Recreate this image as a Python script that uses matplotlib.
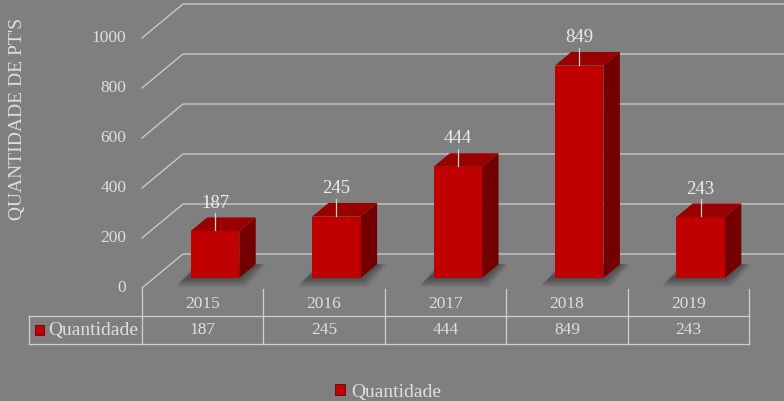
import matplotlib.pyplot as plt
from matplotlib.patches import Polygon, Rectangle

# Data
anos = ['2015', '2016', '2017', '2018', '2019']
quantidade = [187, 245, 444, 849, 243]
yticks = [0, 200, 400, 600, 800, 1000]
serie = 'Quantidade'
ytitulo = "QUANTIDADE DE PT'S"

BG = '#7f7f7f'
GRID = '#d0d0d0'
TXT = '#dedede'
FRONT = '#c00000'
TOP = '#990000'
SIDE = '#730000'

plt.rcParams['font.family'] = ['Liberation Serif', 'DejaVu Serif']

fig = plt.figure(figsize=(7.84, 4.01), dpi=100, facecolor=BG)
ax = fig.add_axes([142 / 784, (401 - 288) / 401, 607 / 784, 250 / 401])
ax.set_xlim(0, len(anos))
ax.set_ylim(0, 1000)
ax.axis('off')

# depth of the 3d box in data units
DX, DY = 0.338, 136


def pt(x, y, d):
    return (x + d * DX, y + d * DY)


# back wall gridlines
for v in yticks:
    ax.plot([0, DX, 5.35], [v, v + DY, v + DY], color=GRID, lw=0.9, clip_on=False)
    ax.text(-0.13, v, str(v), ha='right', va='center', color=TXT, fontsize=12.5)

fig.text(18 / 784, 1 - 119 / 401, ytitulo, rotation=90, ha='center', va='center',
         color=TXT, fontsize=14)

# bars
w = 0.4
d0, d1 = 0.3, 0.7
for i, v in enumerate(quantidade):
    xl = i + 0.5 - w / 2
    xr = i + 0.5 + w / 2
    # floor shadow
    for k in range(6):
        g = 0.012 * k
        shadow = [pt(xl - 0.06 - g, -6 - 6 * k, d0), pt(xr + g, -6 - 6 * k, d0),
                  pt(xr + 0.02 + g, 0, d1), pt(xl - 0.04 - g, 0, d1)]
        ax.add_patch(Polygon(shadow, closed=True, fc='black', ec='none', alpha=0.07,
                             clip_on=False, zorder=2))
    front = [pt(xl, 0, d0), pt(xr, 0, d0), pt(xr, v, d0), pt(xl, v, d0)]
    side = [pt(xr, 0, d0), pt(xr, 0, d1), pt(xr, v, d1), pt(xr, v, d0)]
    top = [pt(xl, v, d0), pt(xr, v, d0), pt(xr, v, d1), pt(xl, v, d1)]
    ax.add_patch(Polygon(side, closed=True, fc=SIDE, ec='none', clip_on=False, zorder=3))
    ax.add_patch(Polygon(top, closed=True, fc=TOP, ec='none', clip_on=False, zorder=3))
    ax.add_patch(Polygon(front, closed=True, fc=FRONT, ec='none', clip_on=False, zorder=4))
    # label with leader line
    cx, cy = pt(i + 0.5, v, d0)
    ax.plot([cx, cx], [cy + 72, cy + 4], color=GRID, lw=0.9, clip_on=False, zorder=5)
    ax.text(cx, cy + 112, str(v), ha='center', va='center', color='#ececec',
            fontsize=13.5, zorder=6)

# data table
x_tab = -0.93
y_row1, y_row2 = -112, -224
ax.plot([x_tab, 5], [y_row1, y_row1], color=GRID, lw=0.9, clip_on=False)
ax.plot([x_tab, 5], [y_row2, y_row2], color=GRID, lw=0.9, clip_on=False)
ax.plot([x_tab, x_tab], [y_row1, y_row2], color=GRID, lw=0.9, clip_on=False)
for k in range(len(anos) + 1):
    ytop = 0 if k == 0 else -4
    ax.plot([k, k], [ytop, y_row2], color=GRID, lw=0.9, clip_on=False)
for i, (a, v) in enumerate(zip(anos, quantidade)):
    ax.text(i + 0.5, -64, a, ha='center', va='center', color=TXT, fontsize=12.5)
    ax.text(i + 0.5, -168, str(v), ha='center', va='center', color=TXT, fontsize=12.5)
ax.add_patch(Rectangle((-0.88, -188), 0.074, 40, fc=FRONT, ec='#6a0000', lw=0.6,
                       clip_on=False))
ax.text(-0.77, -168, serie, ha='left', va='center', color=TXT, fontsize=14)

# legend
handle = Rectangle((0, 0), 1, 1, fc=FRONT, ec='#6a0000', lw=0.6)
fig.legend([handle], [serie], loc='center', bbox_to_anchor=(388 / 784, 1 - 392 / 401),
           frameon=False, handlelength=0.5, handleheight=0.5, handletextpad=0.3,
           labelcolor=TXT, fontsize=14, borderpad=0)

fig.savefig('out.png', dpi=100, facecolor=BG)
